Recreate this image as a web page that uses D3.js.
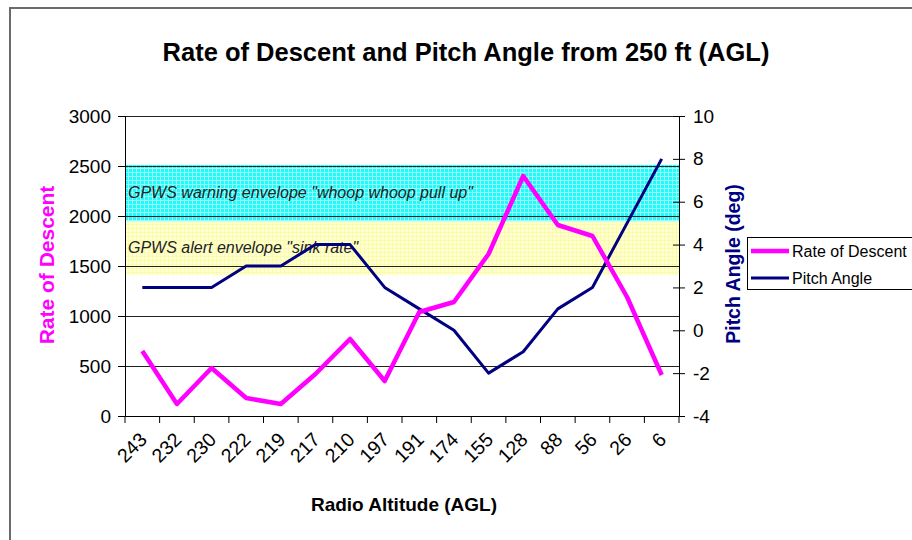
<!DOCTYPE html>
<html>
<head>
<meta charset="utf-8">
<script src="https://cdn.jsdelivr.net/npm/d3@7/dist/d3.min.js"></script>
<style>
  html, body { margin: 0; padding: 0; background: #fff; }
  svg { display: block; font-family: "Liberation Sans", Arial, sans-serif; }
</style>
</head>
<body>
<svg id="chart" width="912" height="540"></svg>
<script>
// ---- data ----
const categories = ["243","232","230","222","219","217","210","197","191","174","155","128","88","56","26","6"];
const rateOfDescent = [650, 120, 480, 180, 120, 420, 770, 350, 1040, 1140, 1620, 2400, 1910, 1800, 1190, 410];
const pitchAngle = [2, 2, 2, 3, 3, 4, 4, 2, 1, 0, -2, -1, 1, 2, 5, 8];
const leftTicks = [0, 500, 1000, 1500, 2000, 2500, 3000];
const rightTicks = [-4, -2, 0, 2, 4, 6, 8, 10];
const bands = [
  { name: "warning", from: 1945, to: 2510, label: "GPWS warning envelope \"whoop whoop pull up\"" },
  { name: "alert", from: 1410, to: 1945, label: "GPWS alert envelope \"sink rate\"" }
];
const seriesNames = ["Rate of Descent", "Pitch Angle"];

// ---- layout ----
const svg = d3.select("#chart");
const L = 125, R = 679, T = 116, B = 416;

const x = d3.scaleBand().domain(categories).range([L, R]).padding(0);
const yL = d3.scaleLinear().domain([0, 3000]).range([B, T]);
const yR = d3.scaleLinear().domain([-4, 10]).range([B, T]);

// outer frame
svg.append("path")
  .attr("d", `M10,560 L10,8 L930,8`)
  .attr("fill", "none").attr("stroke", "#6a6a6a").attr("stroke-width", 2);

// patterns
const defs = svg.append("defs");
const pc = defs.append("pattern").attr("id", "pcyan").attr("patternUnits", "userSpaceOnUse")
  .attr("width", 4).attr("height", 4);
pc.append("rect").attr("width", 4).attr("height", 4).attr("fill", "#22fafa");
pc.append("path").attr("d", "M0,0.5 H4 M0.5,0 V4").attr("stroke", "#96ffff").attr("stroke-width", 1);
const py = defs.append("pattern").attr("id", "pyellow").attr("patternUnits", "userSpaceOnUse")
  .attr("width", 4).attr("height", 4);
py.append("rect").attr("width", 4).attr("height", 4).attr("fill", "#ffffd2");
py.append("path").attr("d", "M0,0.5 H4 M0.5,0 V4").attr("stroke", "#fbfbac").attr("stroke-width", 1);

// bands
svg.selectAll("rect.band").data(bands).enter().append("rect")
  .attr("class", "band")
  .attr("x", L).attr("width", R - L)
  .attr("y", d => yL(d.to)).attr("height", d => yL(d.from) - yL(d.to))
  .attr("fill", d => d.name === "warning" ? "url(#pcyan)" : "url(#pyellow)");

// gridlines
svg.append("g").selectAll("line").data(leftTicks.filter(v => v > 0)).enter().append("line")
  .attr("x1", L).attr("x2", R)
  .attr("y1", d => yL(d) + 0.5).attr("y2", d => yL(d) + 0.5)
  .attr("stroke", "#222").attr("stroke-width", 1.2);

// band labels
svg.selectAll("text.bandlabel").data(bands).enter().append("text")
  .attr("x", 128)
  .attr("y", d => (yL(d.to) + yL(d.from)) / 2 + 5)
  .attr("font-size", 16).attr("font-style", "italic").attr("fill", "#222")
  .text(d => d.label);

// axes
const fmt = d => String(d);
const axL = svg.append("g").attr("transform", `translate(${L},0)`)
  .call(d3.axisLeft(yL).tickValues(leftTicks).tickFormat(fmt).tickSize(7).tickPadding(7));
axL.select(".domain").attr("stroke", "#000");
axL.selectAll("text").attr("font-size", 19).attr("fill", "#000");

const axR = svg.append("g").attr("transform", `translate(${R},0)`)
  .call(d3.axisRight(yR).tickValues(rightTicks).tickFormat(fmt).tickSize(6).tickPadding(8));
axR.select(".domain").attr("stroke", "#000");
axR.selectAll(".tick line").attr("x1", -6);
axR.selectAll("text").attr("font-size", 19).attr("fill", "#000");

const axB = svg.append("g").attr("transform", `translate(0,${B})`)
  .call(d3.axisBottom(x).tickSize(0).tickPadding(0));
axB.select(".domain").attr("stroke", "#000");
axB.selectAll(".tick text")
  .attr("font-size", 19.5).attr("fill", "#000")
  .attr("text-anchor", "end")
  .attr("transform", "translate(1,20) rotate(-45)")
  .attr("dy", "0.35em");
// boundary ticks
const bounds = categories.map(c => x(c)).concat([x(categories[categories.length - 1]) + x.bandwidth()]);
svg.append("g").selectAll("line").data(bounds).enter().append("line")
  .attr("x1", d => d).attr("x2", d => d)
  .attr("y1", B).attr("y2", B + 7)
  .attr("stroke", "#000");

// lines
const lineL = d3.line().x((d, i) => x(categories[i]) + x.bandwidth() / 2).y(d => yL(d));
const lineR = d3.line().x((d, i) => x(categories[i]) + x.bandwidth() / 2).y(d => yR(d));
svg.append("path").datum(pitchAngle).attr("d", lineR)
  .attr("fill", "none").attr("stroke", "#000080").attr("stroke-width", 3).attr("stroke-linejoin", "round");
svg.append("path").datum(rateOfDescent).attr("d", lineL)
  .attr("fill", "none").attr("stroke", "#ff00ff").attr("stroke-width", 4.5).attr("stroke-linejoin", "round");

// title
svg.append("text").attr("x", 466).attr("y", 61).attr("text-anchor", "middle")
  .attr("font-size", 25.5).attr("font-weight", "bold").attr("fill", "#000")
  .text("Rate of Descent and Pitch Angle from 250 ft (AGL)");

// axis titles
svg.append("text").attr("transform", "translate(54,265) rotate(-90)")
  .attr("text-anchor", "middle").attr("font-size", 21).attr("font-weight", "bold").attr("fill", "#ff00ff")
  .text("Rate of Descent");
svg.append("text").attr("transform", "translate(740,264) rotate(-90)")
  .attr("text-anchor", "middle").attr("font-size", 19.5).attr("font-weight", "bold").attr("fill", "#000080")
  .text("Pitch Angle (deg)");
svg.append("text").attr("x", 404).attr("y", 511).attr("text-anchor", "middle")
  .attr("font-size", 19).attr("font-weight", "bold").attr("fill", "#000")
  .text("Radio Altitude (AGL)");

// legend
const lg = svg.append("g");
lg.append("rect").attr("x", 747.5).attr("y", 237.5).attr("width", 200).attr("height", 52)
  .attr("fill", "#fff").attr("stroke", "#000").attr("stroke-width", 1);
const lgColors = ["#ff00ff", "#000080"], lgW = [4.5, 3];
seriesNames.forEach((n, i) => {
  const yy = 251 + i * 27;
  lg.append("line").attr("x1", 751).attr("x2", 789).attr("y1", yy).attr("y2", yy)
    .attr("stroke", lgColors[i]).attr("stroke-width", lgW[i]);
  lg.append("text").attr("x", 792).attr("y", yy + 6).attr("font-size", 16).attr("fill", "#000").text(n);
});
</script>
</body>
</html>
